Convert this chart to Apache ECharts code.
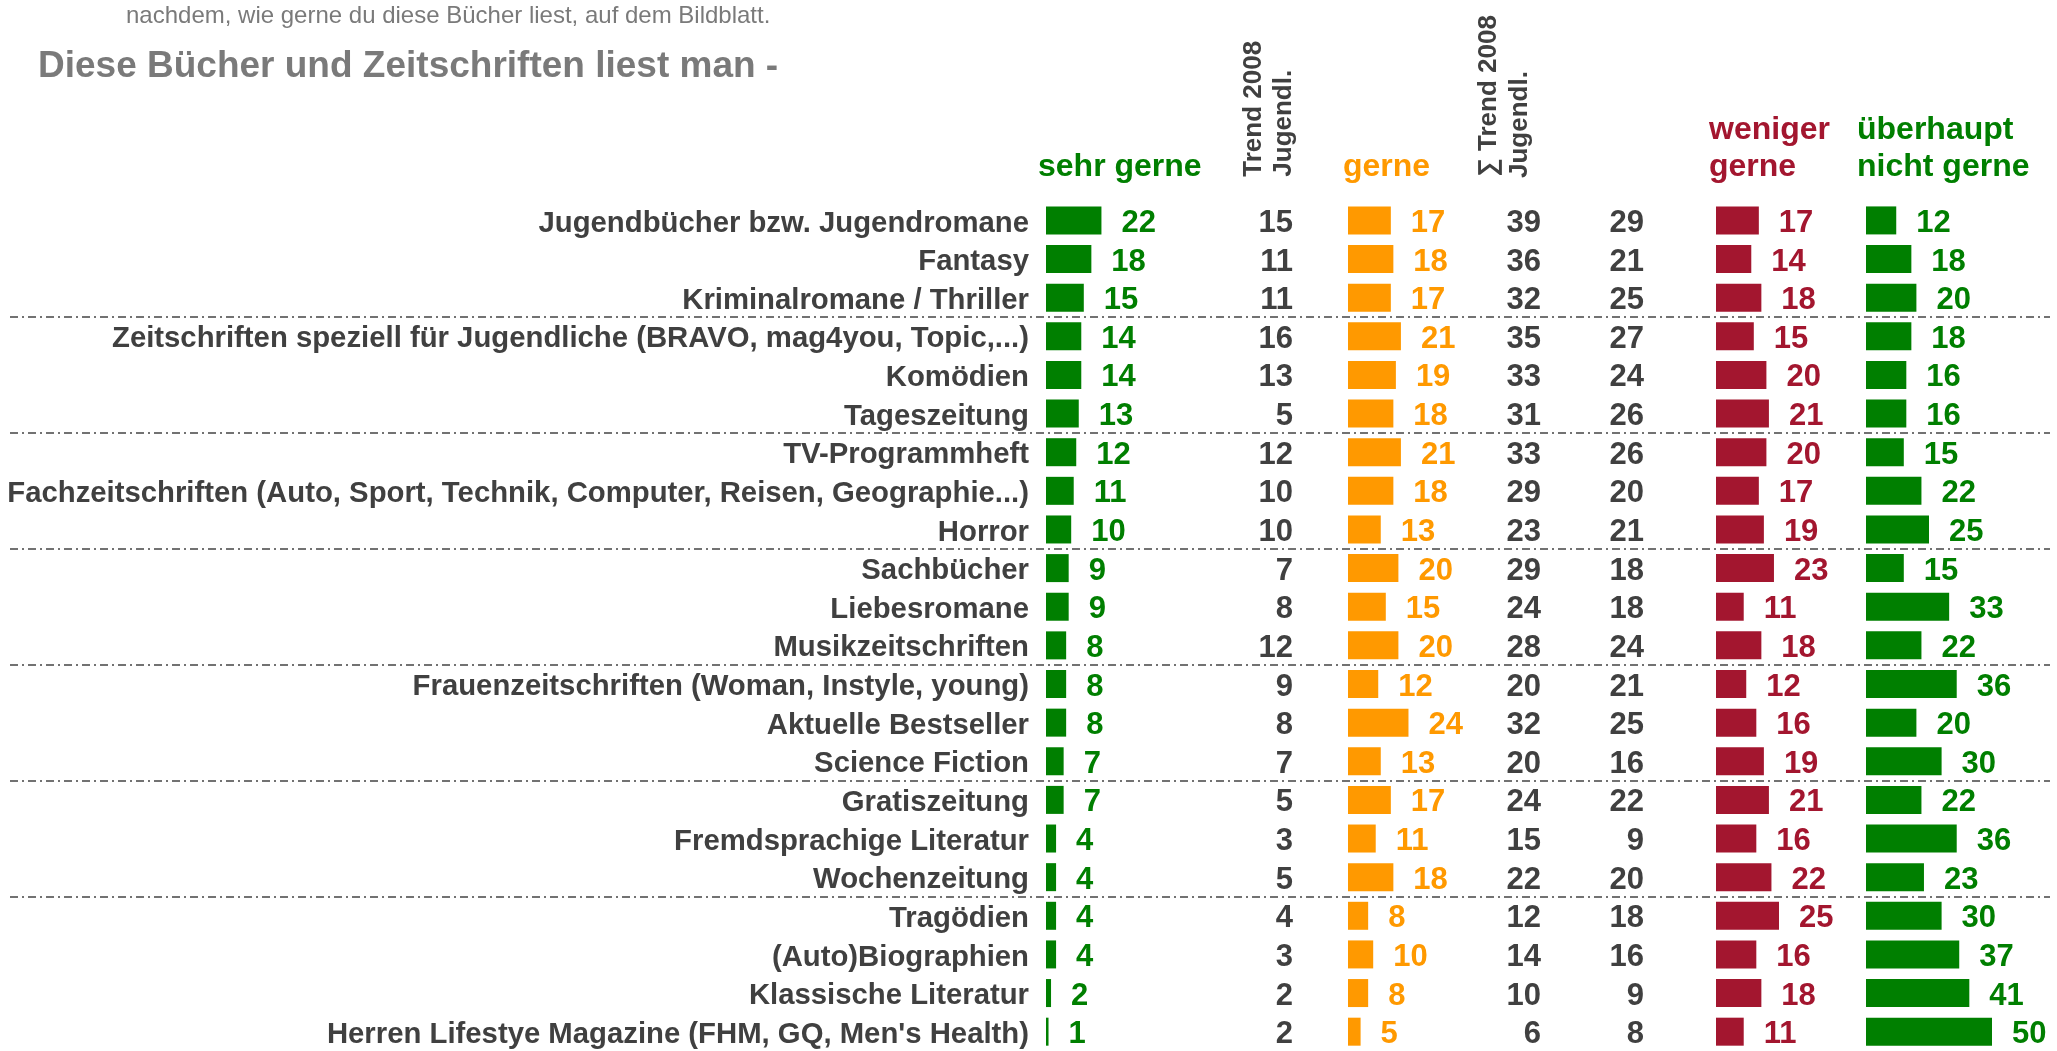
<!DOCTYPE html>
<html><head><meta charset="utf-8">
<script src="https://cdn.jsdelivr.net/npm/echarts/dist/echarts.min.js"></script>
<style>html,body{margin:0;padding:0;background:#fff}#c{width:2057px;height:1051px}</style>
</head><body><div id="c"></div>
<script>
const categories = [
  "Jugendbücher bzw. Jugendromane",
  "Fantasy",
  "Kriminalromane / Thriller",
  "Zeitschriften speziell für Jugendliche (BRAVO, mag4you, Topic,...)",
  "Komödien",
  "Tageszeitung",
  "TV-Programmheft",
  "Fachzeitschriften (Auto, Sport, Technik, Computer, Reisen, Geographie...)",
  "Horror",
  "Sachbücher",
  "Liebesromane",
  "Musikzeitschriften",
  "Frauenzeitschriften (Woman, Instyle, young)",
  "Aktuelle Bestseller",
  "Science Fiction",
  "Gratiszeitung",
  "Fremdsprachige Literatur",
  "Wochenzeitung",
  "Tragödien",
  "(Auto)Biographien",
  "Klassische Literatur",
  "Herren Lifestye Magazine (FHM, GQ, Men's Health)"
];
const sehrGerne    = [22,18,15,14,14,13,12,11,10, 9, 9, 8, 8, 8, 7, 7, 4, 4, 4, 4, 2, 1];
const trendSehr    = [15,11,11,16,13, 5,12,10,10, 7, 8,12, 9, 8, 7, 5, 3, 5, 4, 3, 2, 2];
const gerne        = [17,18,17,21,19,18,21,18,13,20,15,20,12,24,13,17,11,18, 8,10, 8, 5];
const summe        = [39,36,32,35,33,31,33,29,23,29,24,28,20,32,20,24,15,22,12,14,10, 6];
const trendSumme   = [29,21,25,27,24,26,26,20,21,18,18,24,21,25,16,22, 9,20,18,16, 9, 8];
const wenigerGerne = [17,14,18,15,20,21,20,17,19,23,11,18,12,16,19,21,16,22,25,16,18,11];
const nichtGerne   = [12,18,20,18,16,16,15,22,25,15,33,22,36,20,30,22,36,23,30,37,41,50];
const groupBreaks  = [3, 6, 9, 12, 15, 18];   // separator after these many rows
const headers = {
  sehr: "sehr gerne",
  trend: ["Trend 2008", "Jugendl."],
  gerne: "gerne",
  summe: ["∑ Trend 2008", "Jugendl."],
  weniger: ["weniger", "gerne"],
  nicht: ["überhaupt", "nicht gerne"]
};
const title = "Diese Bücher und Zeitschriften liest man -";
const subtitle = "nachdem, wie gerne du diese Bücher liest, auf dem Bildblatt.";

const FF = "'Liberation Sans', Arial, sans-serif";
const GREEN = '#007f00', ORANGE = '#ff9900', RED = '#a3162f', DARK = '#404040', GRAY = '#7a7a7a';
const TOP = 201.1, H = 853.4, MAXV = 70, UNIT = 2.52, W = MAXV * UNIT;
const NUM_FS = 31, LAB_FS = 29.3;

const grids = [
  {left: 1046, top: TOP, width: W, height: H},      // 0 sehr gerne
  {left: 1263, top: TOP, width: 60, height: H},     // 1 trend
  {left: 1348, top: TOP, width: W, height: H},      // 2 gerne
  {left: 1511, top: TOP, width: 60, height: H},     // 3 summe
  {left: 1614, top: TOP, width: 60, height: H},     // 4 trend summe
  {left: 1716, top: TOP, width: W, height: H},      // 5 weniger
  {left: 1866, top: TOP, width: W, height: H},      // 6 nicht
  {left: 10, top: TOP, width: 2040, height: H}      // 7 separators
];
const isBar = [true, false, true, false, false, true, true, false];
const xAxes = grids.map((g, i) => isBar[i]
  ? {type: 'value', gridIndex: i, min: 0, max: MAXV, show: false}
  : (i === 7 ? {type: 'value', gridIndex: i, min: 0, max: 1, show: false}
             : {type: 'category', gridIndex: i, data: ['c'], show: false}));
const yAxes = grids.map((g, i) => i === 7
  ? {type: 'value', gridIndex: i, min: 0, max: categories.length, inverse: true, show: false}
  : {
  type: 'category', gridIndex: i, data: categories, inverse: true,
  show: i === 0,
  axisLine: {show: false}, axisTick: {show: false}, splitLine: {show: false},
  axisLabel: i === 0 ? {show: true, interval: 0, margin: 17,
    formatter: v => '{a|' + v + '}',
    rich: {a: {fontSize: LAB_FS, fontWeight: 'bold', color: DARK, fontFamily: FF,
      padding: [6, 0, 0, 0]}}} : {show: false}
});

function barSeries(idx, data, color) {
  return {
    type: 'bar', xAxisIndex: idx, yAxisIndex: idx, data: data, barWidth: 28,
    itemStyle: {color: color}, silent: true,
    label: {show: true, position: 'right', distance: 20, color: color, fontSize: NUM_FS,
      fontWeight: 'bold', fontFamily: FF, offset: [0, 3]}
  };
}
function textSeries(idx, data) {
  return {
    type: 'scatter', xAxisIndex: idx, yAxisIndex: idx, symbolSize: 0, silent: true,
    itemStyle: {opacity: 1, color: DARK},
    data: data.map((v, i) => ['c', categories[i], v]),
    label: {show: true, position: 'left', distance: 0, color: DARK, opacity: 1, fontSize: NUM_FS,
      fontWeight: 'bold', fontFamily: FF, offset: [0, 3], formatter: p => p.value[2]}
  };
}

function txt(x, y, text, size, color, weight) {
  return {type: 'text', x: x, y: y, silent: true,
    style: {text: text, fontSize: size, fontWeight: weight || 'bold', fontFamily: FF,
      fill: color, textAlign: 'left', textVerticalAlign: 'middle'}};
}
function rot(x, y, text) {
  return {type: 'text', x: x, y: y, rotation: Math.PI / 2, silent: true,
    style: {text: text, fontSize: 26, fontWeight: 'bold', fontFamily: FF, fill: DARK,
      textAlign: 'left', textVerticalAlign: 'middle'}};
}

const option = {
  animation: false,
  backgroundColor: '#fff',
  grid: grids,
  xAxis: xAxes,
  yAxis: yAxes,
  series: [
    {
      type: 'line', xAxisIndex: 7, yAxisIndex: 7, data: [], silent: true,
      markLine: {
        silent: true, symbol: 'none', label: {show: false},
        lineStyle: {color: '#444', width: 1.5, type: [8, 4, 2, 4]},
        data: groupBreaks.map(v => ({yAxis: v}))
      }
    },
    barSeries(0, sehrGerne, GREEN),
    textSeries(1, trendSehr),
    barSeries(2, gerne, ORANGE),
    textSeries(3, summe),
    textSeries(4, trendSumme),
    barSeries(5, wenigerGerne, RED),
    barSeries(6, nichtGerne, GREEN)
  ],
  graphic: [
    txt(126, 16, subtitle, 24, GRAY, 'normal'),
    txt(38, 66.8, title, 37, GRAY, 'bold'),
    txt(1038, 166.8, headers.sehr, 32, GREEN),
    txt(1343, 166.8, headers.gerne, 32, ORANGE),
    txt(1709, 130, headers.weniger[0], 32, RED),
    txt(1709, 166.8, headers.weniger[1], 32, RED),
    txt(1857, 130, headers.nicht[0], 32, GREEN),
    txt(1857, 166.8, headers.nicht[1], 32, GREEN),
    rot(1253.6, 176.7, headers.trend[0]),
    rot(1283.6, 176.7, headers.trend[1]),
    rot(1488.7, 176.7, headers.summe[0]),
    rot(1520, 178, headers.summe[1])
  ]
};
const chart = echarts.init(document.getElementById('c'), null, {renderer: 'canvas'});
chart.setOption(option);
</script>
</body></html>
